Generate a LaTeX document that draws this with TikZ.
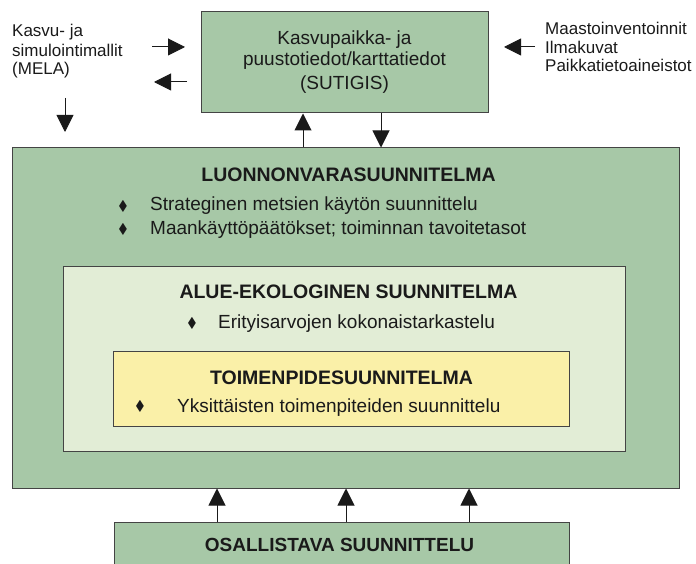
\documentclass[tikz,border=0pt]{standalone}
\usepackage{amssymb}
\usepackage{fontspec}
\setmainfont{Liberation Sans}
\usetikzlibrary{arrows.meta}
\definecolor{boxgreen}{HTML}{A7C8A7}
\definecolor{lightgreen}{HTML}{E2EDD6}
\definecolor{paleyellow}{HTML}{FAF0A8}
\definecolor{edge}{HTML}{444444}
\definecolor{ink}{HTML}{1A1A1A}
\tikzset{
  box/.style={draw=edge, line width=1pt, rectangle, inner sep=0pt},
  arr/.style={line width=1pt, draw=ink, -{Triangle[width=17pt,length=17pt]}},
  side/.style={font=\fontsize{17}{20}\selectfont, text=ink, inner sep=0pt},
  txt/.style={font=\fontsize{19}{22}\selectfont, text=ink, inner sep=0pt},
  head/.style={font=\bfseries\fontsize{19.5}{22}\selectfont, text=ink, inner sep=0pt},
  bhead/.style={font=\bfseries\fontsize{19}{22}\selectfont, text=ink, inner sep=0pt},
  bul/.style={font=\fontsize{14}{16}\selectfont, text=ink, inner sep=0pt},
}
\begin{document}
\begin{tikzpicture}[x=1pt,y=1pt]
\useasboundingbox (0,0) rectangle (696,563);
\clip (0,0) rectangle (696,563);
% boxes
\node[box, fill=boxgreen, minimum width=287, minimum height=101] (top) at (344.5,500.5) {};
\node[box, fill=boxgreen, minimum width=667, minimum height=340] (big) at (345.5,245) {};
\node[box, fill=lightgreen, minimum width=562, minimum height=184] (mid) at (344,204) {};
\node[box, fill=paleyellow, minimum width=456, minimum height=75] (yel) at (341,174.5) {};
\node[box, fill=boxgreen, minimum width=455, minimum height=60, anchor=north] (bot) at (341.5,41) {};
% top box text
\node[txt, anchor=base] (t1) at (344.5,518) {Kasvupaikka- ja};
\node[txt, anchor=base] (t2) at (344.5,497) {puustotiedot/karttatiedot};
\node[txt, anchor=base] (t3) at (344.5,473) {(SUTIGIS)};
% side texts
\node[side, anchor=base west] (lt1) at (12,526) {Kasvu- ja};
\node[side, anchor=base west] (lt2) at (12,506.5) {simulointimallit};
\node[side, anchor=base west] (lt3) at (12,488) {(MELA)};
\node[side, anchor=base west] (rt1) at (545,528) {Maastoinventoinnit};
\node[side, anchor=base west] (rt2) at (545,509.5) {Ilmakuvat};
\node[side, anchor=base west] (rt3) at (545,491) {Paikkatietoaineistot};
% big box
\node[head, anchor=base] (h1) at (348.5,381) {LUONNONVARASUUNNITELMA};
\node[bul] (b1) at (123,357) {$\blacklozenge$};
\node[txt, anchor=base west] (l1) at (150,352) {Strateginen metsien käytön suunnittelu};
\node[bul] (b2) at (123,334) {$\blacklozenge$};
\node[txt, anchor=base west] (l2) at (150,328) {Maankäyttöpäätökset; toiminnan tavoitetasot};
% mid box
\node[head, anchor=base] (h2) at (348.5,265) {ALUE-EKOLOGINEN SUUNNITELMA};
\node[bul] (b3) at (192,240) {$\blacklozenge$};
\node[txt, anchor=base west] (l3) at (218,235) {Erityisarvojen kokonaistarkastelu};
% yellow box
\node[head, anchor=base] (h3) at (341.5,179) {TOIMENPIDESUUNNITELMA};
\node[bul] (b4) at (140,157) {$\blacklozenge$};
\node[txt, anchor=base west] (l4) at (177,151) {Yksittäisten toimenpiteiden suunnittelu};
% bottom box
\node[bhead, anchor=base] (h4) at (339.5,12) {OSALLISTAVA SUUNNITTELU};
% connector columns
\coordinate (cu) at (303,0);
\coordinate (cd) at (381,0);
\coordinate (k1) at (217,0);
\coordinate (k2) at (346,0);
\coordinate (k3) at (469,0);
\draw[arr] (big.north -| cu) -- (top.south -| cu);
\draw[arr] (top.south -| cd) -- (big.north -| cd);
\draw[arr] (bot.north -| k1) -- (big.south -| k1);
\draw[arr] (bot.north -| k2) -- (big.south -| k2);
\draw[arr] (bot.north -| k3) -- (big.south -| k3);
% free arrows
\coordinate (a1s) at (152,516);
\coordinate (a1e) at (185,516);
\coordinate (a2s) at (187,481);
\coordinate (a2e) at (154,481);
\coordinate (a3s) at (65,465);
\coordinate (a3e) at (65,431);
\coordinate (a4s) at (535,516);
\coordinate (a4e) at (504,516);
\draw[arr] (a1s) -- (a1e);
\draw[arr] (a2s) -- (a2e);
\draw[arr] (a3s) -- (a3e);
\draw[arr] (a4s) -- (a4e);
\end{tikzpicture}
\end{document}
